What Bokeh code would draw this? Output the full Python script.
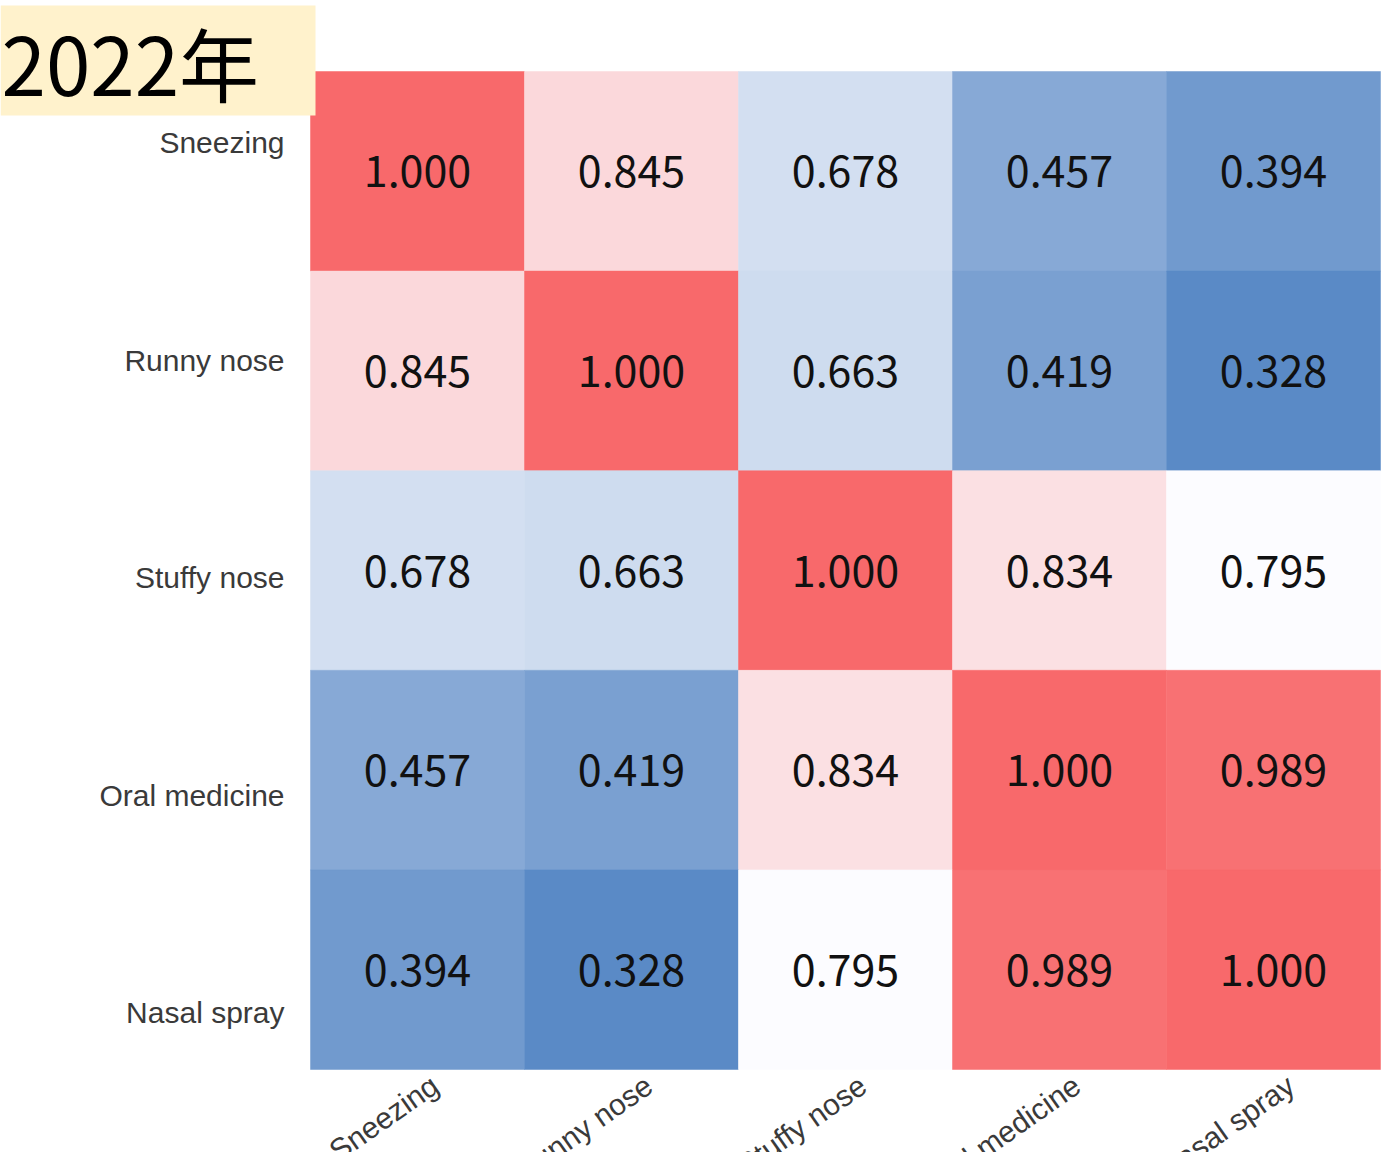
import statistics
from bokeh.plotting import figure
from bokeh.models import Range1d, ColumnDataSource
from bokeh.core.properties import value
from bokeh.embed import file_html
from bokeh.resources import INLINE

# ---------------- data ----------------
categories = ["Sneezing", "Runny nose", "Stuffy nose", "Oral medicine", "Nasal spray"]
row_sneezing = [1.000, 0.845, 0.678, 0.457, 0.394]
row_runny = [0.845, 1.000, 0.663, 0.419, 0.328]
row_stuffy = [0.678, 0.663, 1.000, 0.834, 0.795]
row_oral = [0.457, 0.419, 0.834, 1.000, 0.989]
row_spray = [0.394, 0.328, 0.795, 0.989, 1.000]
matrix = [row_sneezing, row_runny, row_stuffy, row_oral, row_spray]
title_text = "2022年"

# ---------------- layout (page pixels) ----------------
W, H = 1386, 1152
LEFT, RIGHT = 310, 1380      # heatmap left/right on page
TOP, BOTTOM = 71, 1069       # heatmap top/bottom on page
n = len(categories)
CW = (RIGHT - LEFT) / n
CH = (BOTTOM - TOP) / n


def ux(px):
    return (px - LEFT) / CW


def vy(py):
    return (py - TOP) / CH


# ---------------- colour scale (3-colour, midpoint = median) ----------------
RED = (248, 105, 107)
WHITE = (252, 252, 255)
BLUE = (90, 138, 198)
flat = [v for r in matrix for v in r]
vmin, vmax, vmid = min(flat), max(flat), statistics.median(flat)


def lerp(c1, c2, t):
    return "#%02x%02x%02x" % tuple(int(round(a + (b - a) * t)) for a, b in zip(c1, c2))


def colour(v):
    if v >= vmid:
        return lerp(WHITE, RED, (v - vmid) / (vmax - vmid))
    return lerp(WHITE, BLUE, (vmid - v) / (vmid - vmin))


xs, ys, cols, labels = [], [], [], []
for i, r in enumerate(matrix):
    for j, v in enumerate(r):
        xs.append(j + 0.5)
        ys.append(i + 0.5)
        cols.append(colour(v))
        labels.append("%.3f" % v)
src = ColumnDataSource(dict(x=xs, y=ys, c=cols, t=labels))

p = figure(width=W, height=H, output_backend="svg", toolbar_location=None,
           x_range=Range1d(ux(0), ux(W)),
           y_range=Range1d(vy(H), vy(0)),
           x_axis_location=None, y_axis_location=None,
           min_border=0, outline_line_color=None)
p.grid.visible = False
p.background_fill_color = "white"

p.rect(x="x", y="y", width=1, height=1, fill_color="c", line_color="c",
       line_width=0.5, source=src)
p.text(x="x", y="y", text="t", source=src, text_align="center", text_baseline="middle",
       text_font=value("Noto Sans CJK JP"), text_font_size="43px", text_color="#111111")

# y labels (right aligned, left of the heatmap)
ylab_y = [vy(142 + 217.5 * i) for i in range(n)]
p.text(x=[ux(284)] * n, y=ylab_y, text=categories, text_align="right",
       text_baseline="middle", text_font=value("Liberation Sans"),
       text_font_size="30px", text_color="#3a3a3a")

# x labels (rotated)
xlab_x = [j + 0.5 + 8 / CW for j in range(n)]
p.text(x=xlab_x, y=[vy(1068)] * n, text=categories, angle=35, angle_units="deg",
       text_align="right", text_baseline="top", text_font=value("Liberation Sans"),
       text_font_size="30px", text_color="#3a3a3a")

# title box
p.quad(left=[ux(0)], right=[ux(315)], top=[vy(5)], bottom=[vy(115)],
       fill_color="#FFF2CC", line_color=None)
p.text(x=[ux(1)], y=[vy(60)], text=[title_text], text_align="left",
       text_baseline="alphabetic", text_font=value("Noto Sans CJK JP"),
       text_font_size="80px", text_color="#000000")

open("out.html", "w").write(file_html(p, INLINE))
